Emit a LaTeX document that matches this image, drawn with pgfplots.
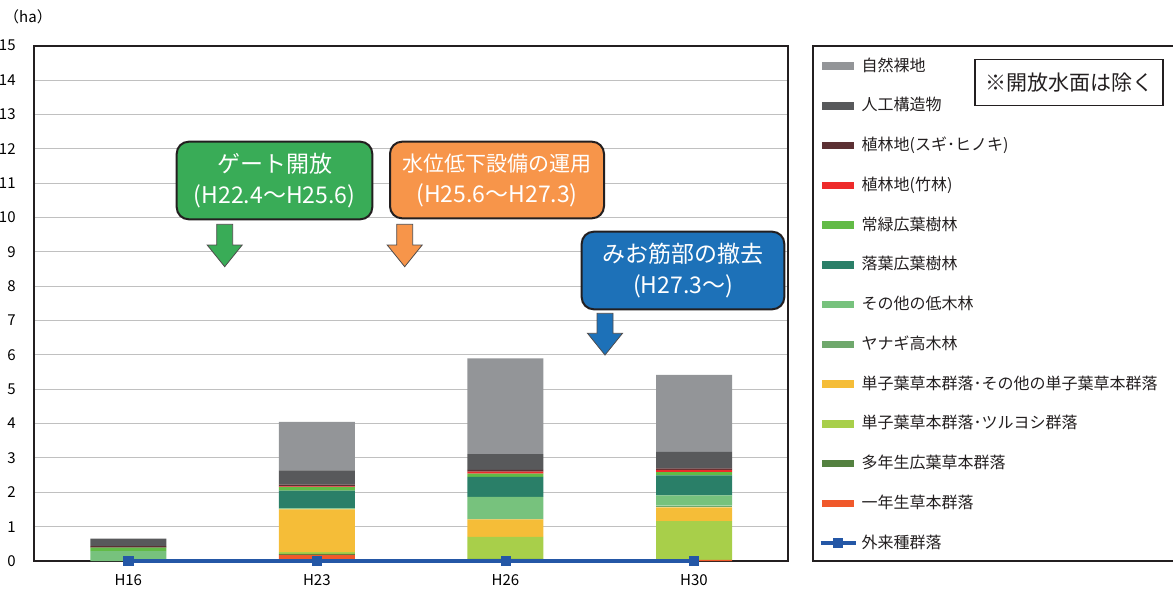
\documentclass[border=0pt]{standalone}
\usepackage{fontspec}
\setmainfont{Noto Sans CJK JP}
\usepackage{pgfplots}
\pgfplotsset{compat=1.18}
\usepackage{pgfplotstable}

\definecolor{cBare}{HTML}{939598}
\definecolor{cArt}{HTML}{58595B}
\definecolor{cSugi}{HTML}{5C3033}
\definecolor{cTake}{HTML}{EE2A2A}
\definecolor{cJoryoku}{HTML}{62BB46}
\definecolor{cRakuyo}{HTML}{2A7F68}
\definecolor{cTeiboku}{HTML}{77C27D}
\definecolor{cYanagi}{HTML}{6FA86C}
\definecolor{cTanshi}{HTML}{F5BD38}
\definecolor{cTsuru}{HTML}{A8CF4A}
\definecolor{cTanen}{HTML}{548140}
\definecolor{cIchinen}{HTML}{F0592B}
\definecolor{cLine}{HTML}{2457A6}
\definecolor{gridgray}{HTML}{C0C0C0}
\definecolor{axdark}{HTML}{231F20}
\definecolor{boxGreen}{HTML}{39AC57}
\definecolor{boxOrange}{HTML}{F7954A}
\definecolor{boxBlue}{HTML}{1D71B8}

% stacking order from bottom: a1 = 一年生草本群落 ... a12 = 自然裸地
\pgfplotstableread{
x a1   a2   a3   a4   a5   a6   a7   a8   a9   a10  a11  a12
0 0    0    0    0    0    0.29 0    0.10 0    0.04 0.22 0
1 0.18 0.03 0.05 1.24 0    0.03 0.52 0.10 0.02 0.05 0.42 1.41
2 0    0.06 0.64 0.51 0    0.66 0.58 0.09 0.06 0.05 0.46 2.79
3 0.03 0    1.13 0.40 0.05 0.30 0.58 0.10 0.06 0.05 0.48 2.24
}\datatable

\newcommand{\barleg}[2]{%
  \addlegendimage{legend image code/.code={\fill[#1] (0pt,-1.65pt) rectangle (15.5pt,1.65pt);}}%
  \addlegendentry{#2}}

\begin{document}
\begin{tikzpicture}
\useasboundingbox (0pt,0pt) rectangle (586.5pt,-297.5pt);

\begin{axis}[
  at={(17pt,-280.5pt)}, anchor=south west,
  scale only axis, width=377.15pt, height=257.65pt,
  ybar stacked, bar width=38pt,
  xmin=-0.5, xmax=3.5, ymin=0, ymax=15,
  xtick={0,1,2,3}, xticklabels={H16,H23,H26,H30},
  ytick={0,1,...,15},
  major tick length=0pt,
  ymajorgrids, grid style={draw=gridgray, line width=0.55pt},
  axis line style={draw=axdark, line width=0.9pt},
  tick label style={font=\fontsize{7.5}{8.5}\selectfont, text=black},
  /pgf/number format/assume math mode=true,
  yticklabel style={anchor=east, inner sep=0pt, xshift=-9pt},
  xticklabel style={anchor=center, inner sep=0pt, yshift=-9.5pt},
  legend cell align=left,
  legend style={at={(axis description cs:1.0407,0.9992)}, anchor=north west,
    draw=none, fill=none, inner sep=0pt, outer sep=0pt,
    row sep=0pt, column sep=2.2pt, text=axdark,
    font=\fontsize{8}{9}\selectfont,
    nodes={inner sep=0pt, minimum height=19.875pt, anchor=west}},
]
\barleg{cBare}{自然裸地}
\barleg{cArt}{人工構造物}
\barleg{cSugi}{植林地(スギ･ヒノキ)}
\barleg{cTake}{植林地(竹林)}
\barleg{cJoryoku}{常緑広葉樹林}
\barleg{cRakuyo}{落葉広葉樹林}
\barleg{cTeiboku}{その他の低木林}
\barleg{cYanagi}{ヤナギ高木林}
\barleg{cTanshi}{単子葉草本群落･その他の単子葉草本群落}
\barleg{cTsuru}{単子葉草本群落･ツルヨシ群落}
\barleg{cTanen}{多年生広葉草本群落}
\barleg{cIchinen}{一年生草本群落}
\addlegendimage{legend image code/.code={%
  \draw[cLine, line width=1.6pt] (-1pt,0pt) -- (16.5pt,0pt);
  \fill[cLine] (5.5pt,-2.2pt) rectangle (10pt,2.2pt);}}
\addlegendentry{外来種群落}

\addplot[fill=cIchinen, draw=none, forget plot] table[x=x, y=a1] {\datatable};
\addplot[fill=cTanen,   draw=none, forget plot] table[x=x, y=a2] {\datatable};
\addplot[fill=cTsuru,   draw=none, forget plot] table[x=x, y=a3] {\datatable};
\addplot[fill=cTanshi,  draw=none, forget plot] table[x=x, y=a4] {\datatable};
\addplot[fill=cYanagi,  draw=none, forget plot] table[x=x, y=a5] {\datatable};
\addplot[fill=cTeiboku, draw=none, forget plot] table[x=x, y=a6] {\datatable};
\addplot[fill=cRakuyo,  draw=none, forget plot] table[x=x, y=a7] {\datatable};
\addplot[fill=cJoryoku, draw=none, forget plot] table[x=x, y=a8] {\datatable};
\addplot[fill=cTake,    draw=none, forget plot] table[x=x, y=a9] {\datatable};
\addplot[fill=cSugi,    draw=none, forget plot] table[x=x, y=a10] {\datatable};
\addplot[fill=cArt,     draw=none, forget plot] table[x=x, y=a11] {\datatable};
\addplot[fill=cBare,    draw=none, forget plot] table[x=x, y=a12] {\datatable};
\end{axis}

% overlay axis for the line series (drawn on top of the bars)
\begin{axis}[
  at={(17pt,-280.5pt)}, anchor=south west,
  scale only axis, width=377.15pt, height=257.65pt,
  xmin=-0.5, xmax=3.5, ymin=0, ymax=15,
  hide axis, clip=false,
]
\addplot[cLine, line width=1.6pt, mark=square*, mark size=2.3pt,
  mark options={fill=cLine, draw=cLine, line width=0.3pt}]
  coordinates {(0,0) (1,0) (2,0) (3,0)};
\end{axis}

\begin{scope}[x=0.5pt, y=-0.5pt]
  % unit label
  \node[font=\fontsize{7.5}{8}\selectfont, inner sep=0pt] at (28,17) {（ha）};
  % legend frame
  \draw[axdark, line width=0.9pt] (813.3,45.7) rectangle (1200,561);
  % note box
  \node[draw=axdark, line width=0.7pt, minimum width=94pt, minimum height=23pt,
    inner sep=0pt, font=\fontsize{10.5}{12}\selectfont, text=axdark] at (1069,82.2) {※開放水面は除く};
  % callout boxes
  \node[draw=axdark, line width=1pt, fill=boxGreen, rounded corners=6pt,
    minimum width=97.8pt, minimum height=38.8pt, inner sep=0pt, align=center,
    text=white, font=\fontsize{11.5}{15.5}\selectfont] at (274.5,180.5)
    {ゲート開放\\(H22.4～H25.6)};
  \node[draw=axdark, line width=1pt, fill=boxOrange, rounded corners=6pt,
    minimum width=107pt, minimum height=38.3pt, inner sep=0pt, align=center,
    text=white, font=\fontsize{10.5}{15.5}\selectfont] at (497,180)
    {水位低下設備の運用\\{\fontsize{11.5}{15.5}\selectfont(H25.6～H27.3)}};
  \node[draw=axdark, line width=1pt, fill=boxBlue, rounded corners=6pt,
    minimum width=101.3pt, minimum height=38.8pt, inner sep=0pt, align=center,
    text=white, font=\fontsize{11.5}{15.5}\selectfont] at (683,270.5)
    {みお筋部の撤去\\(H27.3～)};
  % arrows
  \filldraw[fill=boxGreen, draw=axdark!80, line width=0.4pt]
    (224.7-8,224.3) -- (224.7+8,224.3) -- (224.7+8,245) -- (224.7+17.5,245)
    -- (224.7,266.7) -- (224.7-17.5,245) -- (224.7-8,245) -- cycle;
  \filldraw[fill=boxOrange, draw=axdark!80, line width=0.4pt]
    (404.7-8,224.3) -- (404.7+8,224.3) -- (404.7+8,245) -- (404.7+17.5,245)
    -- (404.7,266.7) -- (404.7-17.5,245) -- (404.7-8,245) -- cycle;
  \filldraw[fill=boxBlue, draw=axdark!80, line width=0.4pt]
    (605-8,313.3) -- (605+8,313.3) -- (605+8,333.3) -- (605+17.5,333.3)
    -- (605,355) -- (605-17.5,333.3) -- (605-8,333.3) -- cycle;
\end{scope}
\end{tikzpicture}
\end{document}
